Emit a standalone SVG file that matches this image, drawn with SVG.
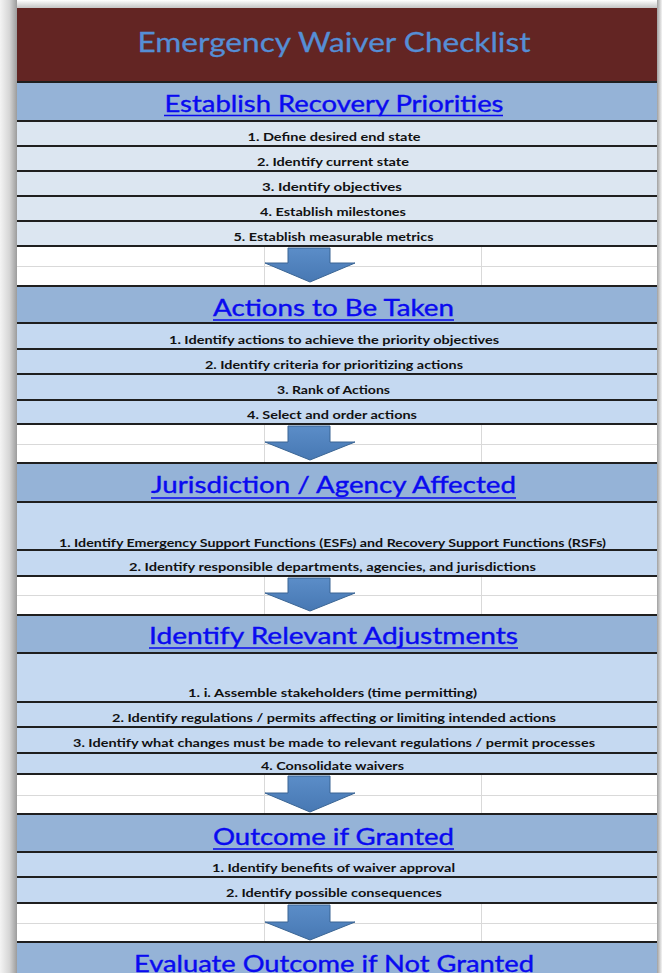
<svg xmlns="http://www.w3.org/2000/svg" width="662" height="973" viewBox="0 0 662 973">
<defs>
<linearGradient id="shL" x1="0" x2="1" y1="0" y2="0"><stop offset="0" stop-color="#f4f4f4"/><stop offset="0.55" stop-color="#d6d6d6"/><stop offset="1" stop-color="#9c9c9c"/></linearGradient>
<linearGradient id="shR" x1="0" x2="1" y1="0" y2="0"><stop offset="0" stop-color="#a0a0a0"/><stop offset="1" stop-color="#f4f4f4"/></linearGradient>
<linearGradient id="shT" x1="0" x2="0" y1="0" y2="1"><stop offset="0" stop-color="#ffffff"/><stop offset="1" stop-color="#c4c4c4"/></linearGradient>
<linearGradient id="arr" x1="0" x2="0" y1="0" y2="1"><stop offset="0" stop-color="#5b8dc8"/><stop offset="1" stop-color="#4778b3"/></linearGradient>
<style>
.band{fill:#95b3d7}
.r1{fill:#dce6f1}
.r2{fill:#c5d9f1}
.sep{stroke:#1f1f1f;stroke-width:2}
.grid{stroke:#d9d9d9;stroke-width:1}
.it{font-family:Lato,"Liberation Sans",sans-serif;font-weight:bold;font-size:10.5px;fill:#111111;text-anchor:middle}
.st{font-family:Lato,"Liberation Sans",sans-serif;font-size:24px;fill:#0a0af0;stroke:#0a0af0;stroke-width:0.4;text-anchor:middle}
.ul{stroke:#0a0af0;stroke-width:1.5}
.ar{fill:url(#arr);stroke:#3a6594;stroke-width:1}
</style>
</defs>
<rect x="0" y="0" width="662" height="973" fill="#ffffff"/>
<rect x="0" y="0" width="17" height="973" fill="url(#shL)"/>
<rect x="657" y="0" width="5" height="973" fill="url(#shR)"/>
<rect x="17" y="0" width="640" height="8" fill="url(#shT)"/>

<g id="title">
<rect x="17" y="8" width="640" height="74" fill="#632523"/>
<text x="334" y="52" font-family="Lato,'Liberation Sans',sans-serif" font-size="26" fill="#558ed5" stroke="#558ed5" stroke-width="0.3" text-anchor="middle" textLength="393" lengthAdjust="spacingAndGlyphs">Emergency Waiver Checklist</text>
</g>

<g id="sec1">
<rect class="band" x="17" y="83" width="640" height="38"/>
<text class="st" x="334" y="112" textLength="339" lengthAdjust="spacingAndGlyphs">Establish Recovery Priorities</text>
<line class="ul" x1="164" y1="115.5" x2="503" y2="115.5"/>
<rect class="r1" x="17" y="121" width="640" height="126"/>
<text class="it" x="334" y="140.5" textLength="173" lengthAdjust="spacingAndGlyphs">1. Define desired end state</text>
<text class="it" x="333" y="165.5" textLength="152" lengthAdjust="spacingAndGlyphs">2. Identify current state</text>
<text class="it" x="332" y="190.5" textLength="140" lengthAdjust="spacingAndGlyphs">3. Identify objectives</text>
<text class="it" x="333" y="215.5" textLength="146" lengthAdjust="spacingAndGlyphs">4. Establish milestones</text>
<text class="it" x="333.5" y="241" textLength="200" lengthAdjust="spacingAndGlyphs">5. Establish measurable metrics</text>
</g>

<g id="sec2">
<rect class="band" x="17" y="287" width="640" height="36"/>
<text class="st" x="333.5" y="316" textLength="241" lengthAdjust="spacingAndGlyphs">Actions to Be Taken</text>
<line class="ul" x1="213" y1="320" x2="454" y2="320"/>
<rect class="r2" x="17" y="323" width="640" height="101"/>
<text class="it" x="334" y="344" textLength="330" lengthAdjust="spacingAndGlyphs">1. Identify actions to achieve the priority objectives</text>
<text class="it" x="334" y="369" textLength="258" lengthAdjust="spacingAndGlyphs">2. Identify criteria for prioritizing actions</text>
<text class="it" x="333.5" y="394" textLength="113" lengthAdjust="spacingAndGlyphs">3. Rank of Actions</text>
<text class="it" x="332" y="419" textLength="170" lengthAdjust="spacingAndGlyphs">4. Select and order actions</text>
</g>

<g id="sec3">
<rect class="band" x="17" y="464" width="640" height="38"/>
<text class="st" x="333.5" y="493" textLength="365" lengthAdjust="spacingAndGlyphs">Jurisdiction / Agency Affected</text>
<line class="ul" x1="151" y1="498" x2="516" y2="498"/>
<rect class="r2" x="17" y="502" width="640" height="74"/>
<text class="it" x="332.5" y="547" textLength="547" lengthAdjust="spacingAndGlyphs">1. Identify Emergency Support Functions (ESFs) and Recovery Support Functions (RSFs)</text>
<text class="it" x="332.5" y="571" textLength="407" lengthAdjust="spacingAndGlyphs">2. Identify responsible departments, agencies, and jurisdictions</text>
</g>

<g id="sec4">
<rect class="band" x="17" y="616" width="640" height="37"/>
<text class="st" x="333.5" y="644" textLength="369" lengthAdjust="spacingAndGlyphs">Identify Relevant Adjustments</text>
<line class="ul" x1="149" y1="648" x2="518" y2="648"/>
<rect class="r2" x="17" y="653" width="640" height="121"/>
<text class="it" x="332.5" y="697" textLength="289" lengthAdjust="spacingAndGlyphs">1. i. Assemble stakeholders (time permitting)</text>
<text class="it" x="334" y="722" textLength="444" lengthAdjust="spacingAndGlyphs">2. Identify regulations / permits affecting or limiting intended actions</text>
<text class="it" x="334" y="747" textLength="522" lengthAdjust="spacingAndGlyphs">3. Identify what changes must be made to relevant regulations / permit processes</text>
<text class="it" x="332.5" y="770" textLength="143" lengthAdjust="spacingAndGlyphs">4. Consolidate waivers</text>
</g>

<g id="sec5">
<rect class="band" x="17" y="815" width="640" height="37"/>
<text class="st" x="333.5" y="845" textLength="241" lengthAdjust="spacingAndGlyphs">Outcome if Granted</text>
<line class="ul" x1="213" y1="849" x2="454" y2="849"/>
<rect class="r2" x="17" y="852" width="640" height="51"/>
<text class="it" x="333.5" y="872" textLength="243" lengthAdjust="spacingAndGlyphs">1. Identify benefits of waiver approval</text>
<text class="it" x="334" y="897" textLength="216" lengthAdjust="spacingAndGlyphs">2. Identify possible consequences</text>
</g>

<g id="sec6">
<rect class="band" x="17" y="943" width="640" height="30"/>
<text class="st" x="334" y="972" textLength="400" lengthAdjust="spacingAndGlyphs">Evaluate Outcome if Not Granted</text>
</g>

<g id="grid">
<line class="grid" x1="17" y1="266.5" x2="657" y2="266.5"/>
<line class="grid" x1="17" y1="444.5" x2="657" y2="444.5"/>
<line class="grid" x1="17" y1="595.5" x2="657" y2="595.5"/>
<line class="grid" x1="17" y1="795.5" x2="657" y2="795.5"/>
<line class="grid" x1="17" y1="923.5" x2="657" y2="923.5"/>
<path class="grid" d="M264.5,247V286M481.5,247V286M264.5,424V463M481.5,424V463M264.5,576V615M481.5,576V615M264.5,774V814M481.5,774V814M264.5,903V942M481.5,903V942" fill="none"/>
</g>

<g id="separators">
<path class="sep" fill="none" d="M17,82H657M17,121H657M17,146H657M17,171H657M17,196H657M17,221H657M17,246H657M17,286H657M17,323H657M17,349H657M17,374H657M17,400H657M17,424H657M17,463H657M17,502H657M17,550H657M17,576H657M17,615H657M17,653H657M17,702H657M17,727H657M17,753H657M17,774H657M17,814H657M17,852H657M17,877H657M17,903H657M17,942H657"/>
</g>

<g id="connectors">
<path class="ar" d="M288,248H330V263H355L310,282L265,263H288Z"/>
<path class="ar" d="M288,426H330V442H355L310,460L265,442H288Z"/>
<path class="ar" d="M288,578H330V593H355L310,611L265,593H288Z"/>
<path class="ar" d="M288,776H330V793H355L310,812L265,793H288Z"/>
<path class="ar" d="M288,905H330V922H355L310,940L265,922H288Z"/>
</g>
</svg>
